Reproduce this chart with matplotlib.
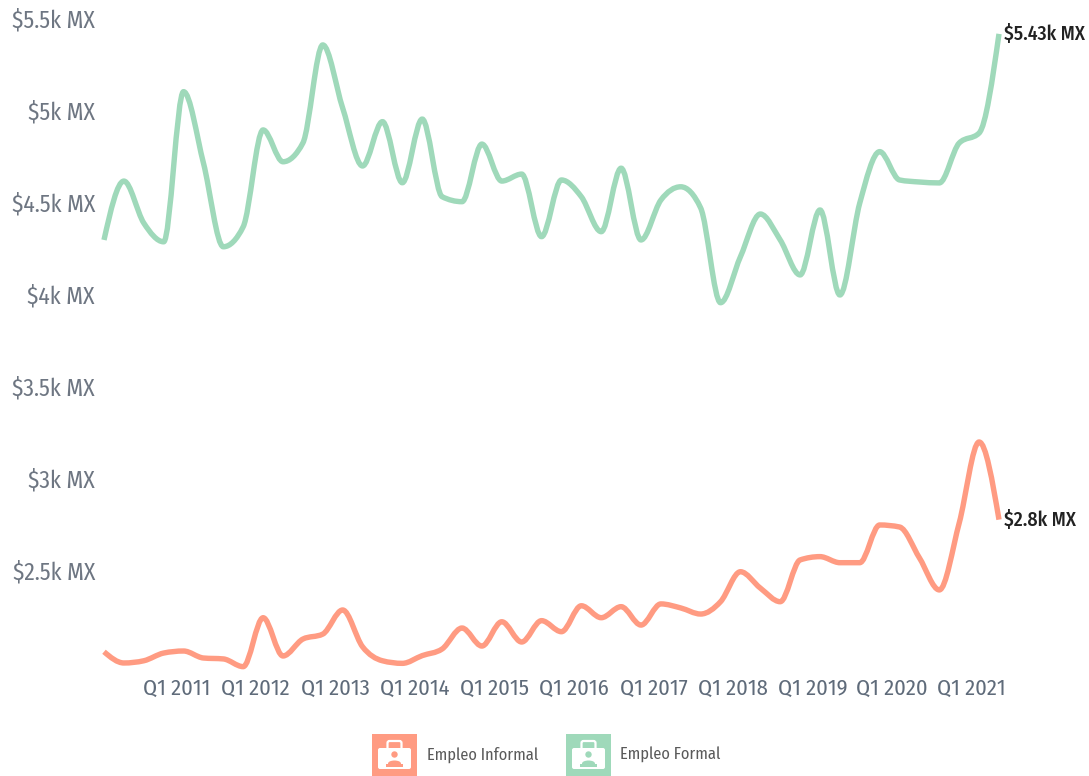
import numpy as np
import matplotlib
matplotlib.use("Agg")
import matplotlib.pyplot as plt
from matplotlib.path import Path
from matplotlib.patches import PathPatch, Rectangle, FancyBboxPatch, Circle, Ellipse
from matplotlib.transforms import ScaledTranslation

formal = [4310, 4630, 4402, 4300, 5116, 4728, 4273, 4382, 4908, 4735, 4837, 5370,
          5027, 4712, 4953, 4621, 4967, 4545, 4518, 4831, 4630, 4668, 4328, 4636,
          4545, 4355, 4700, 4310, 4527, 4599, 4484, 3969, 4219, 4451, 4310, 4120,
          4473, 4011, 4511, 4790, 4636, 4625, 4620, 4837, 4891, 5430]
informal = [2072, 2011, 2023, 2065, 2076, 2038, 2033, 1991, 2257, 2049, 2141, 2168,
            2299, 2099, 2023, 2009, 2051, 2087, 2201, 2103, 2235, 2125, 2241, 2181,
            2322, 2257, 2317, 2217, 2332, 2310, 2277, 2344, 2507, 2418, 2344, 2571,
            2589, 2556, 2556, 2761, 2750, 2582, 2408, 2772, 3212, 2790]
tick_quarters = [4, 8, 12, 16, 20, 24, 28, 32, 36, 40, 44]
tick_labels = ["Q1 2011", "Q1 2012", "Q1 2013", "Q1 2014", "Q1 2015", "Q1 2016",
               "Q1 2017", "Q1 2018", "Q1 2019", "Q1 2020", "Q1 2021"]
y_ticks = [2500, 3000, 3500, 4000, 4500, 5000, 5500]
y_labels = ["$2.5k MX", "$3k MX", "$3.5k MX", "$4k MX", "$4.5k MX", "$5k MX", "$5.5k MX"]
series_names = ["Empleo Informal", "Empleo Formal"]
end_labels = ["$2.8k MX", "$5.43k MX"]

GREEN = "#9FD9BA"
SALMON = "#FF9B82"
W, H = 1089, 776
plt.rcParams['font.family'] = ['Fira Sans Condensed', 'Roboto Condensed', 'Roboto', 'DejaVu Sans']


def monotone_path(ys):
    """Cubic monotone-x curve through the points, as Bezier segments."""
    ys = np.asarray(ys, float)
    xs = np.arange(len(ys), dtype=float)
    d = np.diff(ys)
    m = np.zeros(len(ys))
    for i in range(1, len(ys) - 1):
        if d[i - 1] * d[i] > 0:
            m[i] = np.sign(d[i]) * min(abs(d[i - 1]), abs(d[i]), 0.25 * abs(d[i - 1] + d[i])) * 2
    m[0] = (3 * d[0] - m[1]) / 2
    m[-1] = (3 * d[-1] - m[-2]) / 2
    verts = [(xs[0], ys[0])]
    codes = [Path.MOVETO]
    for i in range(len(ys) - 1):
        verts += [(xs[i] + 1 / 3, ys[i] + m[i] / 3),
                  (xs[i + 1] - 1 / 3, ys[i + 1] - m[i + 1] / 3),
                  (xs[i + 1], ys[i + 1])]
        codes += [Path.CURVE4] * 3
    return Path(verts, codes)


fig = plt.figure(figsize=(W / 100, H / 100), dpi=100, facecolor="white")
left, right, top, bottom = 104, 999, 21, 674.2
ax = fig.add_axes([left / W, 1 - bottom / H, (right - left) / W, (bottom - top) / H])
ax.set_xlim(0, len(formal) - 1)
ax.set_ylim(1950, 5500)
for s in ax.spines.values():
    s.set_visible(False)

for vals, col in [(formal, GREEN), (informal, SALMON)]:
    ax.add_patch(PathPatch(monotone_path(vals), fc="none", ec=col, lw=3.9,
                           capstyle="butt", joinstyle="round", clip_on=False))

ax.set_xticks(tick_quarters)
ax.set_xticklabels(tick_labels, fontsize=16.2, color="#5F6B7A")
ax.set_yticks(y_ticks)
ax.set_yticklabels(y_labels, fontsize=17, color="#6E7682")
ax.tick_params(axis="both", length=0)
ax.tick_params(axis="x", pad=3)
ax.tick_params(axis="y", pad=6.5)
shift = ScaledTranslation(-7.3 / 100, 0, fig.dpi_scale_trans)
for lab in ax.get_xticklabels():
    lab.set_transform(lab.get_transform() + shift)
yshift = ScaledTranslation(0, 2.5 / 100, fig.dpi_scale_trans)
for lab in ax.get_yticklabels():
    lab.set_transform(lab.get_transform() + yshift)

last = len(formal) - 1
ax.annotate(end_labels[1], (last, formal[-1]), xytext=(3.6, 0), textcoords="offset points",
            fontsize=14.2, fontweight=500, color="#222222", va="center", ha="left",
            annotation_clip=False)
ax.annotate(end_labels[0], (last, informal[-1]), xytext=(3.6, 0), textcoords="offset points",
            fontsize=14.2, fontweight=500, color="#222222", va="center", ha="left",
            annotation_clip=False)

# legend drawn in pixel coordinates
lg = fig.add_axes([0, 0, 1, 1], facecolor="none")
lg.set_xlim(0, W)
lg.set_ylim(H, 0)
lg.axis("off")
for x0, col, name, tx in [(372, SALMON, series_names[0], 427), (566, GREEN, series_names[1], 620)]:
    lg.add_patch(Rectangle((x0, 734), 45, 41.5, fc=col, ec="none"))
    lg.add_patch(FancyBboxPatch((x0 + 15.5, 741), 14, 9, boxstyle="round,pad=0,rounding_size=2",
                                fc="none", ec="white", lw=1.6))
    lg.add_patch(FancyBboxPatch((x0 + 6, 748), 33, 21, boxstyle="round,pad=0,rounding_size=2",
                                fc="white", ec="none"))
    lg.add_patch(Circle((x0 + 22.5, 754.5), 3.2, fc=col, ec="none"))
    lg.add_patch(Ellipse((x0 + 22.5, 763.5), 13, 6, fc=col, ec="none"))
    lg.add_patch(Rectangle((x0 + 14, 764), 17, 3, fc=col, ec="none"))
    lg.text(tx, 755, name, fontsize=11.8, color="#5A5A5A", va="center", ha="left")

fig.savefig("out.png", dpi=100, facecolor="white")
